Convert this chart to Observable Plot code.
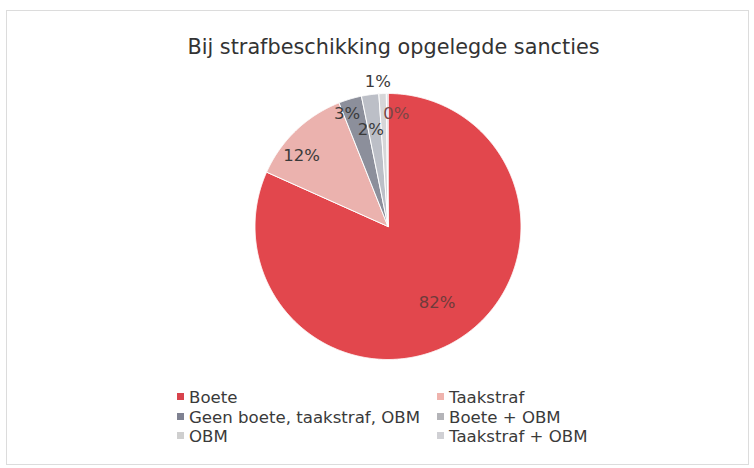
<!DOCTYPE html>
<html>
<head>
<meta charset="utf-8">
<script src="https://cdn.jsdelivr.net/npm/d3@7"></script>
<script src="https://cdn.jsdelivr.net/npm/@observablehq/plot@0.6"></script>
<style>
  html, body { margin: 0; padding: 0; background: #fff; }
  #wrap { position: relative; width: 754px; height: 468px; overflow: hidden; font-family: "DejaVu Sans", Verdana, sans-serif; }
  #frame { position: absolute; left: 6px; top: 10px; width: 743px; height: 455px; border: 1px solid #dcdcdc; box-sizing: border-box; }
  #title { position: absolute; left: 0; top: 35px; width: 787px; text-align: center; font-size: 20.8px; color: #333; }
  #chart { position: absolute; left: 0; top: 70px; }
  .leg { position: absolute; font-size: 16.6px; color: #3a3a3a; white-space: nowrap; line-height: 20px; }
  .leg i { display: inline-block; width: 7px; height: 7px; margin-right: 5px; vertical-align: 3px; }
</style>
</head>
<body>
<div id="wrap">
  <div id="frame"></div>
  <div id="title"></div>
  <div id="chart"></div>
  <div id="legend"></div>
</div>
<script>
// ---- data ----
const categories = ["Boete", "Taakstraf", "Geen boete, taakstraf, OBM", "Boete + OBM", "OBM", "Taakstraf + OBM"];
const shares = [81.7, 12.3, 2.8, 2.1, 0.9, 0.2];
const shareLabels = ["82%", "12%", "3%", "2%", "1%", "0%"];
const title = "Bij strafbeschikking opgelegde sancties";

// ---- styling / layout ----
const sliceColors = ["#e2474d", "#ebb2ae", "#8c8f9b", "#bcbfc7", "#d6d6d8", "#c9ccd2"];
const legendColors = ["#d8434c", "#efb3ad", "#7f8191", "#b4b4b8", "#cfcfcf", "#d0d0d4"];
const labelRadius = [0.68, 0.84, 0.9, 0.74, 1.09, 0.85];
const labelAngleShift = [0, -0.12, -0.06, -0.04, -0.03, 0.08];
const labelColors = ["#6e3b3b", "#3a3a3a", "#3a3a3a", "#3a3a3a", "#3a3a3a", "#7a4646"];

const W = 754, H = 300, R = 133, cx = 387.5, cy = 156;

document.getElementById("title").textContent = title;

const pie = d3.pie().sort(null).value(d => d.value)(categories.map((c, i) => ({name: c, value: shares[i], i})));

// polygon points for each slice
const pts = [];
for (const s of pie) {
  const name = s.data.name;
  pts.push({name, x: 0, y: 0});
  const n = Math.max(2, Math.ceil((s.endAngle - s.startAngle) / 0.005));
  for (let k = 0; k <= n; k++) {
    const a = s.startAngle + (s.endAngle - s.startAngle) * k / n;
    pts.push({name, x: Math.sin(a), y: Math.cos(a)});
  }
  pts.push({name, x: 0, y: 0});
}

const labels = pie.map((s, i) => {
  const a = (s.startAngle + s.endAngle) / 2 + labelAngleShift[i];
  return {text: shareLabels[i], x: labelRadius[i] * Math.sin(a), y: labelRadius[i] * Math.cos(a), c: labelColors[i]};
});

const plot = Plot.plot({
  width: W,
  height: H,
  margin: 0,
  x: {domain: [-cx / R, (W - cx) / R], range: [0, W], axis: null},
  y: {domain: [-(H - cy) / R, cy / R], range: [H, 0], axis: null},
  color: {domain: categories, range: sliceColors},
  style: {background: "transparent", overflow: "visible"},
  marks: [
    Plot.line(pts, {x: "x", y: "y", z: "name", fill: "name", stroke: "#ffffff", strokeWidth: 1, strokeLinejoin: "round", curve: "linear"}),
    Plot.text(labels, {x: "x", y: "y", text: "text", fill: d => d.c, fontSize: 16.5, fontFamily: "DejaVu Sans, Verdana, sans-serif"})
  ]
});
document.getElementById("chart").appendChild(plot);

// legend
const legendPos = [[177, 388], [437, 388], [177, 408], [437, 408], [177, 427], [437, 427]];
const leg = document.getElementById("legend");
categories.forEach((c, i) => {
  const d = document.createElement("div");
  d.className = "leg";
  d.style.left = legendPos[i][0] + "px";
  d.style.top = legendPos[i][1] + "px";
  d.innerHTML = `<i style="background:${legendColors[i]}"></i>`;
  d.appendChild(document.createTextNode(c));
  leg.appendChild(d);
});
</script>
</body>
</html>
